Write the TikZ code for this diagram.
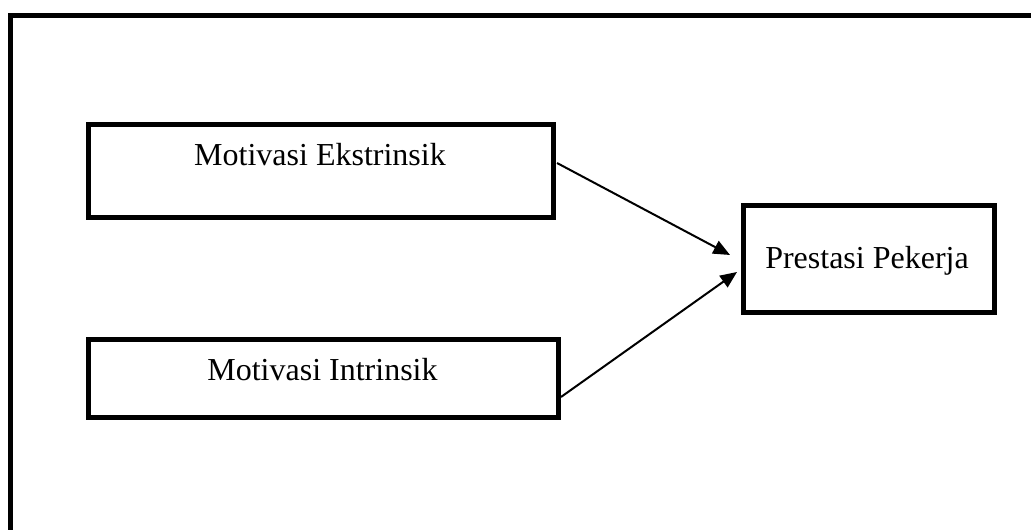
\documentclass[tikz,border=0pt]{standalone}
\usepackage{fontspec}
\setmainfont{Liberation Serif}
\usepackage{tikz}
\usetikzlibrary{arrows.meta}
\def\lblfont{\fontsize{24}{28}\selectfont}

\begin{document}
\begin{tikzpicture}[x=0.75pt,y=0.75pt,
        box/.style={draw,line width=3.75pt,inner sep=0pt,outer sep=0pt},
        lbl/.style={anchor=base,inner sep=0pt,font=\lblfont},
        arr/.style={line width=1.5pt,-{Triangle[length=12.5pt,width=10.5pt]}}]
            \useasboundingbox (0,0) rectangle (1031,530);
            % open frame, cut at the right and bottom
            \draw[line width=3.75pt] (1040,514.5) -- (10,514.5) -- (10,-10);
            \node[box,minimum width=348.75pt,minimum height=69.75pt] (ekst) at (321,359) {};
            \node[box,minimum width=352.5pt,minimum height=58.5pt] (intr) at (323.5,151.5) {};
            \node[box,minimum width=188.25pt,minimum height=79.9pt] (pres) at (869,271.25) {};
            \node[lbl] (ekstlbl) at (320,364) {Motivasi Ekstrinsik};
            \node[lbl] (intrlbl) at (322.5,149) {Motivasi Intrinsik};
            \node[lbl] (preslbl) at (867,261) {Prestasi Pekerja};
            \draw[arr] ([shift={(3.5,8)}]ekst.east) -- ([shift={(-13.5,3.75)}]pres.west);
            \draw[arr] ([shift={(2.5,-18.5)}]intr.east) -- ([shift={(-6.5,-13.25)}]pres.west);
        \end{tikzpicture}
\end{document}
